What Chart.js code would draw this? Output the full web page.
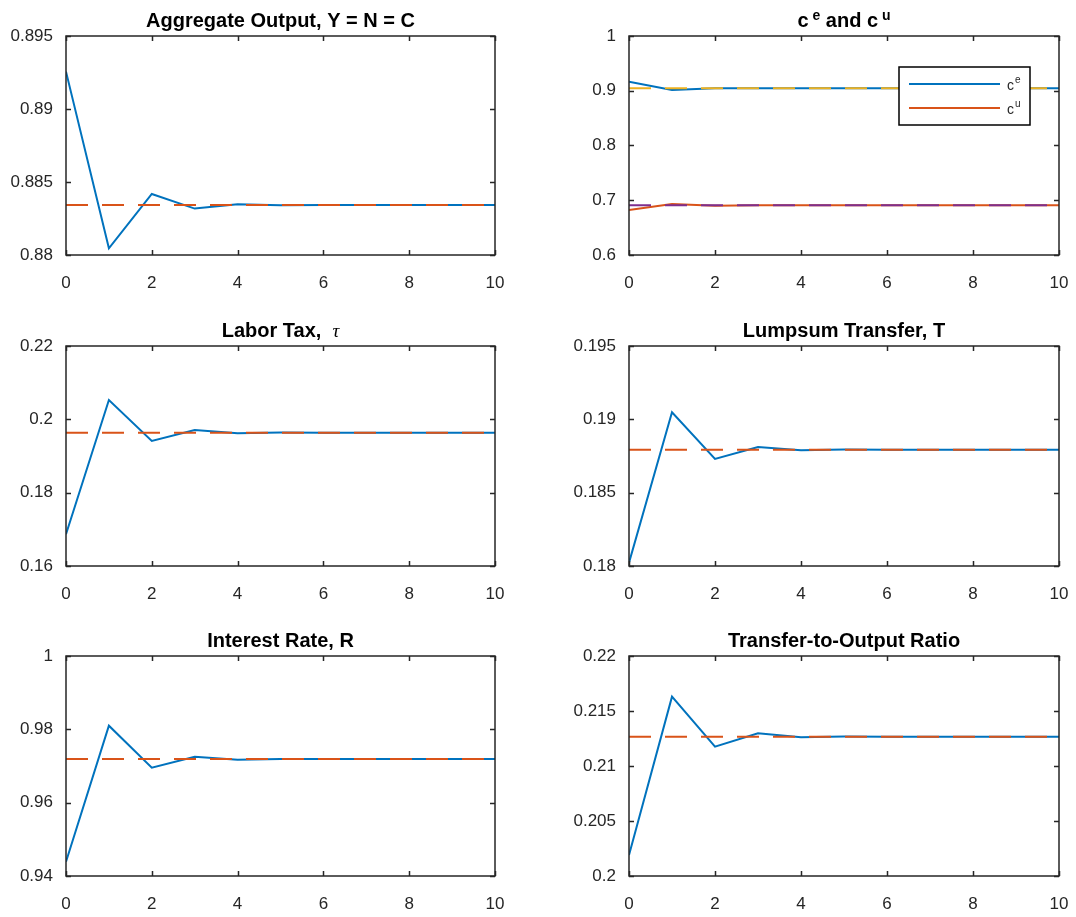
<!DOCTYPE html>
<html>
<head>
<meta charset="utf-8">
<script src="https://cdn.jsdelivr.net/npm/chart.js@4.4.0/dist/chart.umd.min.js"></script>
<style>
  body { margin: 0; background: #fff; }
  #wrap { position: relative; width: 1076px; height: 917px; background: #fff; overflow: hidden; }
  #wrap canvas { position: absolute; }
</style>
</head>
<body>
<div id="wrap"></div>
<script>
// periods on the x axis
var periods = [0, 1, 2, 3, 4, 5, 6, 7, 8, 9, 10];
var xTicks = [0, 2, 4, 6, 8, 10];

// Aggregate output
var outputPath = [0.89256, 0.88046, 0.88418, 0.88318, 0.88347, 0.88341, 0.88342, 0.88342, 0.88342, 0.88342, 0.88342];
var outputSS = 0.88342;
var outputTicks = [0.88, 0.885, 0.89, 0.895];

// consumption of employed / unemployed
var cePath = [0.9165, 0.9014, 0.9044, 0.9046, 0.9045, 0.9045, 0.9045, 0.9045, 0.9045, 0.9045, 0.9045];
var ceSS = 0.9045;
var cuPath = [0.6822, 0.6932, 0.6900, 0.6910, 0.6907, 0.6907, 0.6907, 0.6907, 0.6907, 0.6907, 0.6907];
var cuSS = 0.6907;
var consTicks = [0.6, 0.7, 0.8, 0.9, 1];

// labor tax
var taxPath = [0.16864, 0.20527, 0.19409, 0.19709, 0.19618, 0.19638, 0.19636, 0.19636, 0.19636, 0.19636, 0.19636];
var taxSS = 0.19636;
var taxTicks = [0.16, 0.18, 0.2, 0.22];

// lumpsum transfer
var transferPath = [0.18023, 0.19048, 0.18730, 0.18811, 0.18789, 0.18794, 0.18793, 0.18793, 0.18793, 0.18793, 0.18793];
var transferSS = 0.18793;
var transferTicks = [0.18, 0.185, 0.19, 0.195];

// interest rate
var ratePath = [0.9439, 0.9810, 0.96954, 0.97254, 0.97172, 0.97193, 0.97191, 0.97191, 0.97191, 0.97191, 0.97191];
var rateSS = 0.97191;
var rateTicks = [0.94, 0.96, 0.98, 1];

// transfer-to-output ratio
var ratioPath = [0.20191, 0.2163, 0.21176, 0.21297, 0.21261, 0.21268, 0.21267, 0.21267, 0.21267, 0.21267, 0.21267];
var ratioSS = 0.21267;
var ratioTicks = [0.2, 0.205, 0.21, 0.215, 0.22];

var BLUE = '#0072BD', ORANGE = '#D95319', YELLOW = '#EDB120', PURPLE = '#7E2F8E';
var AXIS = '#262626';
var FONT = '"Liberation Sans", Arial, Helvetica, sans-serif';

function flat(v) { return periods.map(function () { return v; }); }
function pts(arr) { return periods.map(function (p, i) { return { x: p, y: arr[i] }; }); }

function solid(label, arr, color) {
  return { label: label, data: pts(arr), borderColor: color, borderWidth: 2, pointRadius: 0, fill: false, tension: 0 };
}
function dashed(label, v, color) {
  return { label: label, data: pts(flat(v)), borderColor: color, borderWidth: 2, borderDash: [22, 14], pointRadius: 0, fill: false, tension: 0 };
}

var panels = [
  { col: 0, row: 0, title: [{ text: 'Aggregate Output, Y = N = C' }], ticks: outputTicks,
    datasets: [dashed('ss', outputSS, ORANGE), solid('Y', outputPath, BLUE)] },
  { col: 1, row: 0, title: [{ text: 'c' }, { text: ' e', sup: true }, { text: ' and c' }, { text: ' u', sup: true }], ticks: consTicks,
    legend: [{ base: 'c', sup: 'e', color: BLUE }, { base: 'c', sup: 'u', color: ORANGE }],
    datasets: [dashed('ce ss', ceSS, YELLOW), dashed('cu ss', cuSS, PURPLE), solid('ce', cePath, BLUE), solid('cu', cuPath, ORANGE)] },
  { col: 0, row: 1, title: [{ text: 'Labor Tax,  ' }, { text: 'τ', font: 'italic 19px "Liberation Serif", serif' }], ticks: taxTicks,
    datasets: [dashed('ss', taxSS, ORANGE), solid('tau', taxPath, BLUE)] },
  { col: 1, row: 1, title: [{ text: 'Lumpsum Transfer, T' }], ticks: transferTicks,
    datasets: [dashed('ss', transferSS, ORANGE), solid('T', transferPath, BLUE)] },
  { col: 0, row: 2, title: [{ text: 'Interest Rate, R' }], ticks: rateTicks,
    datasets: [dashed('ss', rateSS, ORANGE), solid('R', ratePath, BLUE)] },
  { col: 1, row: 2, title: [{ text: 'Transfer-to-Output Ratio' }], ticks: ratioTicks,
    datasets: [dashed('ss', ratioSS, ORANGE), solid('ratio', ratioPath, BLUE)] }
];

// plot-area geometry of the subplot grid
var colLeft = [66, 629], colWidth = [429, 430];
var rowTop = [36, 346, 656], rowHeight = [219, 220, 220];
var YAXIS_W = 66, TOP_PAD = 36, RIGHT_PAD = 15, XAXIS_H = 40;

// box, inward ticks, title and legend
var matlabAxes = {
  id: 'matlabAxes',
  afterDraw: function (chart) {
    var ctx = chart.ctx, a = chart.chartArea;
    var xs = chart.scales.x, ys = chart.scales.y;
    var p = chart.options.plugins.matlabAxes;
    ctx.save();
    ctx.strokeStyle = AXIS;
    ctx.lineWidth = 1.5;
    ctx.strokeRect(a.left, a.top, a.right - a.left, a.bottom - a.top);
    var tl = 5;
    ctx.beginPath();
    xs.ticks.forEach(function (t) {
      var px = Math.round(xs.getPixelForValue(t.value)) + 0.5;
      ctx.moveTo(px, a.bottom); ctx.lineTo(px, a.bottom - tl);
      ctx.moveTo(px, a.top); ctx.lineTo(px, a.top + tl);
    });
    ys.ticks.forEach(function (t) {
      var py = Math.round(ys.getPixelForValue(t.value)) + 0.5;
      ctx.moveTo(a.left, py); ctx.lineTo(a.left + tl, py);
      ctx.moveTo(a.right, py); ctx.lineTo(a.right - tl, py);
    });
    ctx.stroke();

    // title with optional superscripts
    var base = 'bold 20px ' + FONT, supF = 'bold 14px ' + FONT;
    var total = 0;
    p.title.forEach(function (s) {
      ctx.font = s.font || (s.sup ? supF : base);
      s.w = ctx.measureText(s.text).width;
      total += s.w;
    });
    var x = (a.left + a.right) / 2 - total / 2, y = a.top - 9;
    ctx.fillStyle = '#000';
    ctx.textBaseline = 'alphabetic';
    ctx.textAlign = 'left';
    p.title.forEach(function (s) {
      ctx.font = s.font || (s.sup ? supF : base);
      ctx.fillText(s.text, x, s.sup ? y - 7 : y);
      x += s.w;
    });

    // legend box
    if (p.legend) {
      var bx = a.right - 160, by = a.top + 31, bw = 131, bh = 58;
      ctx.fillStyle = '#fff';
      ctx.fillRect(bx, by, bw, bh);
      ctx.strokeStyle = '#000';
      ctx.lineWidth = 1.5;
      ctx.strokeRect(bx, by, bw, bh);
      p.legend.forEach(function (item, i) {
        var ly = by + 17 + i * 24;
        ctx.strokeStyle = item.color;
        ctx.lineWidth = 2;
        ctx.beginPath();
        ctx.moveTo(bx + 10, ly); ctx.lineTo(bx + 101, ly);
        ctx.stroke();
        ctx.fillStyle = AXIS;
        ctx.font = '14px ' + FONT;
        ctx.fillText(item.base, bx + 108, ly + 6);
        var cw = ctx.measureText(item.base).width;
        ctx.font = '10px ' + FONT;
        ctx.fillText(item.sup, bx + 108 + cw + 1, ly - 1);
      });
    }
    ctx.restore();
  }
};

var wrap = document.getElementById('wrap');

panels.forEach(function (pn) {
  var w = YAXIS_W + colWidth[pn.col] + RIGHT_PAD;
  var h = TOP_PAD + rowHeight[pn.row] + XAXIS_H;
  var cv = document.createElement('canvas');
  cv.width = w; cv.height = h;
  cv.style.left = (colLeft[pn.col] - YAXIS_W) + 'px';
  cv.style.top = (rowTop[pn.row] - TOP_PAD) + 'px';
  cv.style.width = w + 'px'; cv.style.height = h + 'px';
  wrap.appendChild(cv);

  var tickVals = pn.ticks;
  new Chart(cv.getContext('2d'), {
    type: 'line',
    data: { datasets: pn.datasets },
    options: {
      responsive: false,
      animation: false,
      devicePixelRatio: 1,
      layout: { padding: { top: TOP_PAD, right: RIGHT_PAD, left: 0, bottom: 0 } },
      plugins: {
        legend: { display: false },
        tooltip: { enabled: false },
        title: { display: false },
        matlabAxes: { title: pn.title, legend: pn.legend }
      },
      scales: {
        x: {
          type: 'linear', min: 0, max: 10,
          grid: { display: false, drawTicks: false }, border: { display: false },
          afterBuildTicks: function (s) { s.ticks = xTicks.map(function (v) { return { value: v }; }); },
          afterFit: function (s) { s.height = XAXIS_H; s.paddingLeft = 0; s.paddingRight = 0; },
          ticks: { color: AXIS, font: { family: FONT, size: 17 }, padding: 18, maxRotation: 0, autoSkip: false,
                   callback: function (v) { return String(v); } }
        },
        y: {
          type: 'linear', min: tickVals[0], max: tickVals[tickVals.length - 1],
          grid: { display: false, drawTicks: false }, border: { display: false },
          afterBuildTicks: function (s) { s.ticks = tickVals.map(function (v) { return { value: v }; }); },
          afterFit: function (s) { s.width = YAXIS_W; s.paddingTop = 0; s.paddingBottom = 0; },
          ticks: { color: AXIS, font: { family: FONT, size: 17 }, padding: 13, autoSkip: false,
                   callback: function (v) { return String(v); } }
        }
      }
    },
    plugins: [matlabAxes]
  });
});
</script>
</body>
</html>
